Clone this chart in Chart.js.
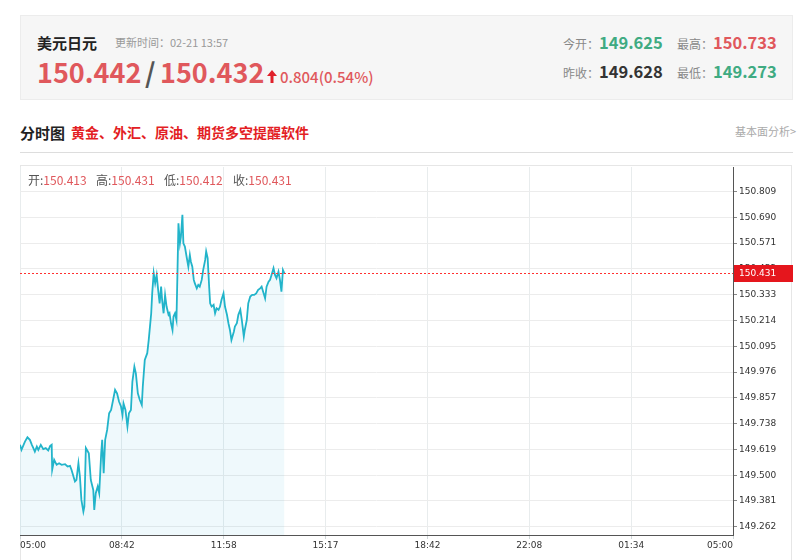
<!DOCTYPE html>
<html><head><meta charset="utf-8">
<script src="https://cdn.jsdelivr.net/npm/chart.js@4"></script>
<style>
body{margin:0;width:800px;height:560px;overflow:hidden;background:#fff;font-family:"Noto Sans CJK SC","Noto Sans",sans-serif;position:relative}
.a{position:absolute;white-space:nowrap;line-height:1}
#hdr{position:absolute;left:20px;top:15px;width:771px;height:83px;background:#f6f6f6;border:1px solid #ececec}
#box{position:absolute;left:20px;top:165px;width:772px;height:400px;border:1px solid #e6e6e6;box-sizing:border-box}
#wrap{position:absolute;left:20px;top:165px;width:773px;height:395px}
.red{color:#e0585c}.grn{color:#3fab82}.lbl{color:#888;font-size:12px}
</style></head>
<body>
<div id="hdr"></div>
<div class="a" style="left:37px;top:35px;font-size:15px;font-weight:bold;color:#222">美元日元</div>
<div class="a" style="left:115px;top:37px;font-size:11px;color:#999">更新时间：02-21 13:57</div>
<div class="a red" id="bid" style="left:37px;top:58px;font-size:27px;font-weight:bold"></div>
<div class="a" style="left:145px;top:58px;font-size:27px;font-weight:bold;color:#555">/</div>
<div class="a red" id="ask" style="left:160px;top:58px;font-size:27px;font-weight:bold"></div>
<svg class="a" style="left:267px;top:70px" width="10" height="13" viewBox="0 0 10 13"><polygon points="5,0 10,6 6.5,6 6.5,13 3.5,13 3.5,6 0,6" fill="#e0202a"/></svg>
<div class="a red" id="chg" style="left:280px;top:69px;font-size:15px;font-weight:500"></div>

<div class="a lbl" style="left:563px;top:38px">今开：</div>
<div class="a grn" id="open" style="left:599px;top:34px;font-size:16.5px;font-weight:bold"></div>
<div class="a lbl" style="left:677px;top:38px">最高：</div>
<div class="a red" id="high" style="left:713px;top:34px;font-size:16.5px;font-weight:bold"></div>
<div class="a lbl" style="left:563px;top:67px">昨收：</div>
<div class="a" id="prev" style="left:599px;top:63px;font-size:16.5px;font-weight:bold;color:#333"></div>
<div class="a lbl" style="left:677px;top:67px">最低：</div>
<div class="a grn" id="low" style="left:713px;top:63px;font-size:16.5px;font-weight:bold"></div>

<div class="a" style="left:20px;top:125px;font-size:15px;font-weight:bold;color:#222">分时图</div>
<div class="a" style="left:71px;top:125px;font-size:14px;font-weight:bold;color:#e31e24">黄金、外汇、原油、期货多空提醒软件</div>
<div class="a" style="left:735px;top:126px;font-size:11px;color:#aaa">基本面分析&gt;</div>
<div style="position:absolute;left:20px;top:152px;width:773px;height:1px;background:#ddd"></div>

<div id="box"></div>
<div id="wrap"><canvas id="c"></canvas></div>
<div id="ohlc"></div>

<script>
// ---- data ----
const headerBid = 150.442, headerAsk = 150.432;
const headerChange = '0.804(0.54%)';
const todayOpen = 149.625, dayHigh = 150.733, prevClose = 149.628, dayLow = 149.273;
const ohlcLabels = ['开', '高', '低', '收'];
const ohlcValues = [150.413, 150.431, 150.412, 150.431];
const lastPrice = 150.431;
const xTickLabels = ['05:00', '08:42', '11:58', '15:17', '18:42', '22:08', '01:34', '05:00'];
const yTickValues = [149.262, 149.381, 149.500, 149.619, 149.738, 149.857, 149.976, 150.095, 150.214, 150.333, 150.452, 150.571, 150.690, 150.809];
// minutes since 05:00 (session spans 1440)
const minutes = [0,3,10,15,20,24,27,30,34,37,42,47,52,57,61,64,65,69,74,79,84,91,96,101,104,108,111,114,118,121,124,128,130,133,137,139,143,148,150,153,157,160,164,166,169,172,176,180,184,188,192,196,200,204,207,209,213,217,220,224,227,231,234,238,242,246,248,252,257,260,265,267,270,273,276,279,282,285,287,290,293,296,300,302,305,308,310,313,316,318,320,323,325,328,330,333,337,340,343,345,348,351,353,357,360,363,367,370,374,376,379,382,384,387,391,394,397,401,404,407,411,414,418,421,424,427,432,434,438,441,445,448,452,454,458,461,465,469,473,477,481,485,488,492,495,498,502,505,508,512,515,518,522,525,528,531,534];
const prices = [149.640,149.617,149.655,149.675,149.663,149.640,149.625,149.609,149.632,149.617,149.640,149.620,149.625,149.614,149.635,149.640,149.525,149.571,149.548,149.555,149.548,149.551,149.540,149.543,149.525,149.494,149.471,149.478,149.555,149.494,149.386,149.332,149.355,149.625,149.609,149.601,149.478,149.432,149.340,149.417,149.448,149.417,149.601,149.663,149.509,149.663,149.709,149.786,149.801,149.847,149.894,149.878,149.840,149.817,149.778,149.832,149.801,149.724,149.786,149.801,149.932,150.001,149.970,149.878,149.847,149.824,149.909,150.032,150.063,150.124,150.247,150.339,150.432,150.386,150.424,150.355,150.293,150.370,150.309,150.247,150.332,150.278,150.240,150.247,150.201,150.170,150.232,150.247,150.216,150.432,150.662,150.570,150.601,150.701,150.570,150.555,150.501,150.462,150.516,150.486,150.462,150.401,150.386,150.362,150.378,150.370,150.401,150.447,150.493,150.532,150.501,150.370,150.293,150.278,150.286,150.247,150.270,150.263,150.278,150.309,150.339,150.278,150.240,150.201,150.170,150.124,150.163,150.186,150.201,150.240,150.263,150.216,150.140,150.170,150.216,150.293,150.324,150.332,150.332,150.339,150.355,150.362,150.370,150.339,150.316,150.370,150.393,150.401,150.424,150.455,150.424,150.409,150.439,150.401,150.347,150.447,150.431];
const sessionMinutes = 1440;
const yMin = 149.224, yMax = 150.922;

// ---- header text ----
const f3 = v => v.toFixed(3);
document.getElementById('bid').textContent = f3(headerBid);
document.getElementById('ask').textContent = f3(headerAsk);
document.getElementById('chg').textContent = headerChange;
document.getElementById('open').textContent = f3(todayOpen);
document.getElementById('high').textContent = f3(dayHigh);
document.getElementById('prev').textContent = f3(prevClose);
document.getElementById('low').textContent = f3(dayLow);
const ohlcLeft = [28, 96, 164, 233];
const oh = document.getElementById('ohlc');
ohlcLabels.forEach((l, i) => {
  const d = document.createElement('div');
  d.className = 'a';
  d.style.cssText = `left:${ohlcLeft[i]}px;top:174px;font-size:12px;color:#555`;
  d.innerHTML = `${l}:<span style="color:#e0585c">${f3(ohlcValues[i])}</span>`;
  oh.appendChild(d);
});

// ---- chart ----
const lastPricePlugin = {
  id: 'lastPrice',
  afterDraw(chart) {
    const {ctx, chartArea: a, scales: {y}} = chart;
    const py = Math.round(y.getPixelForValue(lastPrice)) + 0.5;
    ctx.save();
    ctx.strokeStyle = '#ff3030'; ctx.lineWidth = 1; ctx.setLineDash([2, 2]);
    ctx.beginPath(); ctx.moveTo(a.left, py); ctx.lineTo(a.right, py); ctx.stroke();
    ctx.setLineDash([]);
    ctx.fillStyle = '#e5161d';
    ctx.fillRect(a.right + 1, py - 8.5, 59, 17);
    ctx.fillStyle = '#fff'; ctx.font = '9px "DejaVu Sans"';
    ctx.textBaseline = 'middle'; ctx.textAlign = 'left';
    ctx.fillText(f3(lastPrice), a.right + 6, py + 0.5);
    ctx.restore();
  }
};

new Chart(document.getElementById('c'), {
  type: 'line',
  data: {
    datasets: [{
      data: minutes.map((m, i) => ({x: m, y: prices[i]})),
      borderColor: '#22b4ca',
      borderWidth: 1.8,
      backgroundColor: 'rgba(40,175,215,0.075)',
      fill: 'start',
      pointRadius: 0,
      tension: 0
    }]
  },
  options: {
    responsive: true, maintainAspectRatio: false, animation: false,
    layout: {padding: {top: 2, left: 0, right: 0, bottom: 0}},
    plugins: {legend: {display: false}, tooltip: {enabled: false}},
    scales: {
      x: {
        type: 'linear', min: 0, max: sessionMinutes,
        afterBuildTicks: s => { s.ticks = xTickLabels.map((_, i) => ({value: i * sessionMinutes / (xTickLabels.length - 1)})); },
        afterFit: s => { s.height = 25; s.paddingLeft = 0; s.paddingRight = 0; },
        ticks: {
          autoSkip: false, maxRotation: 0, align: 'inner', padding: 1,
          color: '#333', font: {family: 'DejaVu Sans', size: 9},
          callback: (v, i) => xTickLabels[i]
        },
        grid: {color: '#e8eced', tickColor: '#cfd6d8', tickLength: 4},
        border: {color: '#555', width: 1}
      },
      y: {
        position: 'right', min: yMin, max: yMax,
        afterBuildTicks: s => { s.ticks = yTickValues.map(v => ({value: v})); },
        afterFit: s => { s.width = 60; s.paddingTop = 0; s.paddingBottom = 0; },
        ticks: {
          padding: 2, color: '#333', font: {family: 'DejaVu Sans', size: 9},
          callback: v => Number(v).toFixed(3)
        },
        grid: {color: '#ececec', tickColor: '#888', tickLength: 4},
        border: {color: '#555', width: 1}
      }
    }
  },
  plugins: [lastPricePlugin]
});
</script>
</body></html>
